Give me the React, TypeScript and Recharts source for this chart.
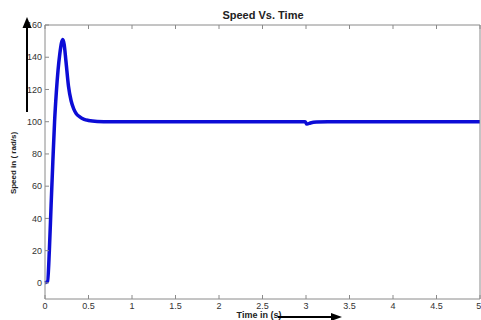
import { Line, LineChart, XAxis, YAxis } from "recharts";

// sampled off the reference curve
const timeS = [
  0, 0.03, 0.05, 0.07, 0.09, 0.11, 0.13, 0.15, 0.17, 0.19, 0.205, 0.22, 0.24, 0.27, 0.3, 0.33,
  0.36, 0.4, 0.45, 0.5, 0.6, 0.75, 1, 1.5, 2, 2.5, 2.99, 3.01, 3.05, 3.12, 3.25, 3.5, 4, 4.5, 5,
];
const speed = [
  0, 1, 20, 48, 75, 100, 118, 132, 142, 149, 151, 148, 138, 122, 113, 108,
  105, 103, 101.5, 100.8, 100.2, 100, 100, 100, 100, 100, 100, 98.5, 99.2, 99.8, 100, 100, 100, 100, 100,
];
const xTicks = [0, 0.5, 1, 1.5, 2, 2.5, 3, 3.5, 4, 4.5, 5];
const yTicks = [0, 20, 40, 60, 80, 100, 120, 140, 160];

const data = timeS.map((t, i) => ({ t, v: speed[i] }));

const FONT = "Arial, 'Liberation Sans', sans-serif";
const AXIS = "#8a8a8a";
const tickStyle = { fontSize: 9, fill: "#333", fontFamily: FONT };
const blank = () => "";

export default function App() {
  return (
    <div style={{ position: "absolute", left: 0, top: 0, width: 481, height: 320, background: "#fff" }}>
      <LineChart width={481} height={320} data={data} margin={{ top: 24, right: 0, bottom: 0, left: 0 }}>
        <XAxis
          dataKey="t"
          type="number"
          domain={[0, 5]}
          ticks={xTicks}
          height={21}
          stroke={AXIS}
          tickSize={-4}
          tickMargin={8}
          tick={tickStyle}
        />
        <XAxis
          xAxisId="top"
          dataKey="t"
          orientation="top"
          type="number"
          domain={[0, 5]}
          ticks={xTicks}
          height={1}
          stroke={AXIS}
          tickSize={-4}
          tickFormatter={blank}
        />
        <YAxis
          type="number"
          domain={[-10, 160]}
          ticks={yTicks}
          width={45}
          stroke={AXIS}
          tickSize={-4}
          tickMargin={7}
          tick={tickStyle}
        />
        <YAxis
          yAxisId="right"
          orientation="right"
          type="number"
          domain={[-10, 160]}
          ticks={yTicks}
          width={1}
          stroke={AXIS}
          tickSize={-4}
          tickFormatter={blank}
        />
        <Line
          dataKey="v"
          type="monotone"
          stroke="#0c0cd6"
          strokeWidth={3.5}
          dot={false}
          isAnimationActive={false}
        />
      </LineChart>
      <svg
        width={481}
        height={320}
        style={{ position: "absolute", left: 0, top: 0, pointerEvents: "none" }}
      >
        <text x={263} y={19} textAnchor="middle" fontSize={11} fontWeight="bold" fontFamily={FONT} fill="#222">
          Speed Vs. Time
        </text>
        <text
          x={16}
          y={163}
          transform="rotate(-90 16 163)"
          textAnchor="middle"
          fontSize={8}
          fontWeight="bold"
          fontFamily={FONT}
          fill="#222"
        >
          Speed in ( rad/s)
        </text>
        <text x={259} y={318} textAnchor="middle" fontSize={9} fontWeight="bold" fontFamily={FONT} fill="#222">
          Time in (s)
        </text>
        <line x1={27} y1={112} x2={27} y2={27} stroke="#000" strokeWidth={2} />
        <polygon points="27,17 22.5,28 31.5,28" fill="#000" />
        <line x1={278} y1={317} x2={332} y2={317} stroke="#000" strokeWidth={2} />
        <polygon points="342,317 331,313 331,321" fill="#000" />
      </svg>
    </div>
  );
}
